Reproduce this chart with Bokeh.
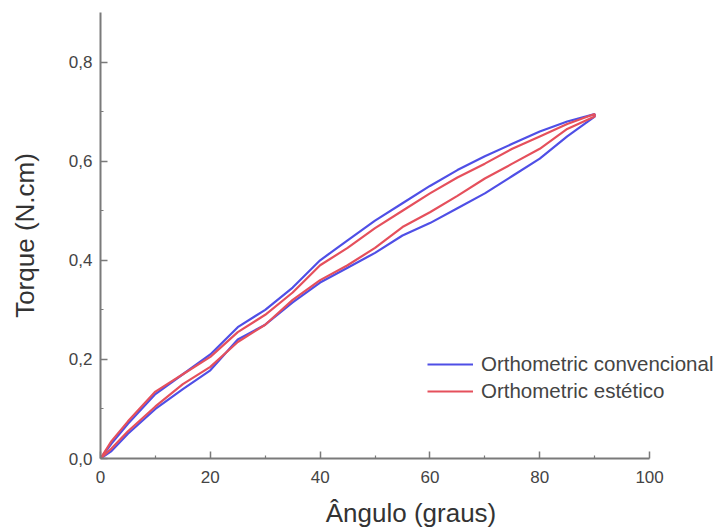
from bokeh.plotting import figure
from bokeh.models import FixedTicker, CustomJSTickFormatter, Range1d, Legend, LegendItem
from bokeh.embed import file_html
from bokeh.resources import INLINE

# Orthometric convencional (blue): loading branch then unloading branch
conv_up_x = [0, 2, 5, 10, 15, 20, 25, 30, 35, 40, 45, 50, 55, 60, 65, 70, 75, 80, 85, 90]
conv_up_y = [0, 0.03, 0.07, 0.13, 0.17, 0.21, 0.265, 0.30, 0.345, 0.40, 0.44, 0.48, 0.515, 0.55, 0.582, 0.61, 0.635, 0.66, 0.68, 0.695]
conv_dn_x = [90, 85, 80, 75, 70, 65, 60, 55, 50, 45, 40, 35, 30, 25, 20, 15, 10, 5, 2, 0]
conv_dn_y = [0.69, 0.65, 0.605, 0.57, 0.535, 0.505, 0.475, 0.45, 0.415, 0.385, 0.355, 0.315, 0.27, 0.24, 0.178, 0.14, 0.10, 0.05, 0.015, 0]

# Orthometric estético (red)
est_up_x = [0, 2, 5, 10, 15, 20, 25, 30, 35, 40, 45, 50, 55, 60, 65, 70, 75, 80, 85, 90]
est_up_y = [0, 0.035, 0.075, 0.135, 0.17, 0.205, 0.255, 0.29, 0.335, 0.39, 0.425, 0.465, 0.50, 0.535, 0.567, 0.595, 0.625, 0.65, 0.675, 0.695]
est_dn_x = [90, 85, 80, 75, 70, 65, 60, 55, 50, 45, 40, 35, 30, 25, 20, 15, 10, 5, 2, 0]
est_dn_y = [0.69, 0.665, 0.625, 0.595, 0.565, 0.53, 0.497, 0.467, 0.425, 0.39, 0.36, 0.32, 0.27, 0.235, 0.185, 0.15, 0.105, 0.055, 0.02, 0]

x_ticks = [0, 20, 40, 60, 80, 100]
x_minor = [10, 30, 50, 70, 90]
y_ticks = [0.0, 0.2, 0.4, 0.6, 0.8]
y_minor = [0.1, 0.3, 0.5, 0.7]

series_labels = ["Orthometric convencional", "Orthometric estético"]
x_label = "Ângulo (graus)"
y_label = "Torque (N.cm)"

FONT = "Liberation Sans"
BLUE = "#4f4fe6"
RED = "#e5505c"
AXIS = "#7a7a7a"
TEXT = "#444444"

p = figure(width=721, height=530, output_backend="svg", toolbar_location=None,
           x_range=Range1d(0, 113.1), y_range=Range1d(0, 0.9),
           min_border_left=100, min_border_right=0, min_border_top=12, min_border_bottom=72)
p.outline_line_color = None
p.xgrid.visible = False
p.ygrid.visible = False
p.background_fill_color = "white"
p.border_fill_color = "white"

r1 = p.line(conv_up_x + conv_dn_x, conv_up_y + conv_dn_y, line_color=BLUE, line_width=2.2)
r2 = p.line(est_up_x + est_dn_x, est_up_y + est_dn_y, line_color=RED, line_width=2.2)

fmt = CustomJSTickFormatter(code="return tick.toFixed(1).replace('.', ',');")
fmt_x = CustomJSTickFormatter(code="return tick.toFixed(0);")

p.xaxis.ticker = FixedTicker(ticks=x_ticks, minor_ticks=x_minor)
p.yaxis.ticker = FixedTicker(ticks=y_ticks, minor_ticks=y_minor)
p.yaxis.formatter = fmt
p.xaxis.formatter = fmt_x
p.xaxis.bounds = (0, 100)

for ax in (p.xaxis[0], p.yaxis[0]):
    ax.axis_line_color = AXIS
    ax.axis_line_width = 2
    ax.major_tick_line_color = AXIS
    ax.minor_tick_line_color = AXIS
    ax.major_tick_line_width = 1.5
    ax.minor_tick_line_width = 1.2
    ax.major_tick_in = 7
    ax.major_tick_out = 0
    ax.minor_tick_in = 3
    ax.minor_tick_out = 0
    ax.major_label_text_font = FONT
    ax.major_label_text_font_size = "17px"
    ax.major_label_text_color = TEXT
    ax.axis_label_text_font = FONT
    ax.axis_label_text_font_style = "normal"
    ax.axis_label_text_color = "#333333"
    ax.axis_label_text_font_size = "26px"

p.xaxis.axis_label = x_label
p.yaxis.axis_label = y_label
p.xaxis.axis_label_text_line_height = 0.8
p.xaxis.major_label_standoff = 12
p.yaxis.major_label_standoff = 8
p.xaxis.axis_label_standoff = 12
p.yaxis.axis_label_standoff = 26

legend = Legend(items=[LegendItem(label=series_labels[0], renderers=[r1]),
                       LegendItem(label=series_labels[1], renderers=[r2])],
                location=(327, 55))
legend.background_fill_alpha = 0
legend.border_line_color = None
legend.margin = 0
legend.padding = 0
legend.spacing = 3
legend.glyph_width = 46
legend.glyph_height = 20
legend.label_height = 20
legend.label_standoff = 8
legend.label_text_font = FONT
legend.label_text_font_size = "20.5px"
legend.label_text_color = TEXT
p.add_layout(legend, "center")

open("out.html", "w").write(file_html(p, INLINE))
